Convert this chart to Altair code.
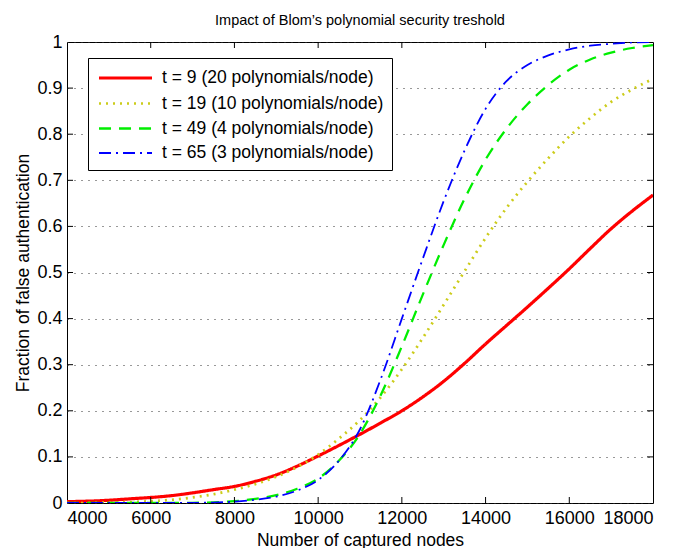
import altair as alt
import pandas as pd

# ---- data ----
x_nodes = [4000, 4500, 5000, 5500, 6000, 6500, 7000, 7500, 8000, 8500,
           9000, 9500, 10000, 10500, 11000, 11500, 12000, 12500, 13000, 13500,
           14000, 14500, 15000, 15500, 16000, 16500, 17000, 17500, 18000]
t9 = [0.003, 0.004, 0.006, 0.009, 0.012, 0.016, 0.022, 0.029, 0.036, 0.047,
      0.061, 0.080, 0.102, 0.125, 0.149, 0.174, 0.200, 0.230, 0.264, 0.303,
      0.345, 0.385, 0.425, 0.466, 0.508, 0.552, 0.595, 0.633, 0.668]
t19 = [0.000, 0.000, 0.001, 0.002, 0.004, 0.007, 0.012, 0.019, 0.029, 0.041,
       0.057, 0.078, 0.105, 0.140, 0.180, 0.230, 0.290, 0.358, 0.430, 0.503,
       0.575, 0.640, 0.697, 0.748, 0.795, 0.835, 0.870, 0.897, 0.920]
t49 = [0.000, 0.000, 0.000, 0.000, 0.000, 0.000, 0.0005, 0.0015, 0.004, 0.009,
       0.017, 0.031, 0.053, 0.092, 0.150, 0.235, 0.340, 0.452, 0.560, 0.660,
       0.745, 0.812, 0.865, 0.907, 0.940, 0.962, 0.977, 0.987, 0.993]
t65 = [0.000, 0.000, 0.000, 0.000, 0.000, 0.000, 0.0003, 0.001, 0.003, 0.007,
       0.014, 0.027, 0.050, 0.092, 0.160, 0.270, 0.400, 0.530, 0.655, 0.765,
       0.855, 0.915, 0.950, 0.971, 0.984, 0.992, 0.996, 0.999, 1.000]

series_labels = ["t = 9 (20 polynomials/node)",
                 "t = 19 (10 polynomials/node)",
                 "t = 49 (4 polynomials/node)",
                 "t = 65 (3 polynomials/node)"]
series_values = [t9, t19, t49, t65]

x_ticks = [4000, 6000, 8000, 10000, 12000, 14000, 16000, 18000]
y_ticks = [0, 0.1, 0.2, 0.3, 0.4, 0.5, 0.6, 0.7, 0.8, 0.9, 1.0]

# ---- styles ----
colors = ["#ff0000", "#cccc1a", "#00ee00", "#0000ff"]
dashes = [[1, 0], [2, 5], [12, 8], [12, 5, 2, 5]]
widths = [3.2, 1.8, 3.2, 3.2]
FONT = "Liberation Sans"

rows = []
for lab, vals in zip(series_labels, series_values):
    for xv, yv in zip(x_nodes, vals):
        rows.append({"nodes": xv, "frac": yv, "series": lab})
df = pd.DataFrame(rows)

X0, X1 = 4000, 18000
W, H = 586, 461
xscale = alt.Scale(domain=[X0, X1], nice=False, zero=False)
yscale = alt.Scale(domain=[0, 1], nice=False)

legend = alt.Legend(
    title=None, orient="none", legendX=21, legendY=16,
    fillColor="white", strokeColor="black",
    padding=8, symbolType="M-0.9,0H4.4", symbolSize=400,
    labelFont=FONT, labelFontSize=17.5, labelColor="black",
    labelLimit=500, rowPadding=5, labelOffset=42, cornerRadius=0,
)

lines = alt.Chart(df).mark_line(interpolate="monotone", clip=True).encode(
    x=alt.X("nodes:Q", scale=xscale,
            axis=alt.Axis(values=x_ticks, format="d", title="Number of captured nodes",
                          grid=False, ticks=False, domain=False,
                          labelPadding=6, titlePadding=4)),
    y=alt.Y("frac:Q", scale=yscale,
            axis=alt.Axis(values=y_ticks, format=".1~f",
                          title="Fraction of false authentication",
                          grid=True, gridDash=[1, 6], gridColor="#333",
                          ticks=False, domain=False,
                          labelPadding=5, titlePadding=4)),
    color=alt.Color("series:N", scale=alt.Scale(domain=series_labels, range=colors),
                    legend=legend),
    strokeDash=alt.StrokeDash("series:N", scale=alt.Scale(domain=series_labels, range=dashes),
                              legend=legend),
    strokeWidth=alt.StrokeWidth("series:N", scale=alt.Scale(domain=series_labels, range=widths),
                                legend=legend),
    order=alt.Order("nodes:Q"),
)

# inward tick marks on all four sides (MATLAB style)
dx = (X1 - X0) * 6 / W
dy = 6 / H
yt = pd.DataFrame({"y": y_ticks[1:-1]})
xt = pd.DataFrame({"x": x_ticks[1:-1]})

left_ticks = alt.Chart(yt).mark_rule(color="black", strokeWidth=1).encode(
    x=alt.X("a:Q", scale=xscale), x2="b:Q", y=alt.Y("y:Q", scale=yscale)
).transform_calculate(a=str(X0), b=str(X0 + dx))
right_ticks = alt.Chart(yt).mark_rule(color="black", strokeWidth=1).encode(
    x=alt.X("a:Q", scale=xscale), x2="b:Q", y=alt.Y("y:Q", scale=yscale)
).transform_calculate(a=str(X1 - dx), b=str(X1))
bottom_ticks = alt.Chart(xt).mark_rule(color="black", strokeWidth=1).encode(
    x=alt.X("x:Q", scale=xscale), y=alt.Y("a:Q", scale=yscale), y2="b:Q"
).transform_calculate(a="0", b=str(dy))
top_ticks = alt.Chart(xt).mark_rule(color="black", strokeWidth=1).encode(
    x=alt.X("x:Q", scale=xscale), y=alt.Y("a:Q", scale=yscale), y2="b:Q"
).transform_calculate(a=str(1 - dy), b="1")

chart = alt.layer(lines, left_ticks, right_ticks, bottom_ticks, top_ticks).properties(
    width=W, height=H,
    title=alt.TitleParams("Impact of Blom\u2019s polynomial security treshold",
                          font=FONT, fontSize=14.5, fontWeight="normal",
                          color="black", offset=5, anchor="middle"),
    autosize=alt.AutoSizeParams(type="none"),
    padding={"left": 67, "top": 42, "right": 28, "bottom": 45},
).configure(
    background="white"
).configure_view(
    stroke="black", strokeWidth=1
).configure_axis(
    labelFont=FONT, labelFontSize=18, labelColor="black",
    titleFont=FONT, titleFontSize=17.5, titleFontWeight="normal", titleColor="black",
)

chart.save("out.html", embed_options={"renderer": "svg", "actions": False})
